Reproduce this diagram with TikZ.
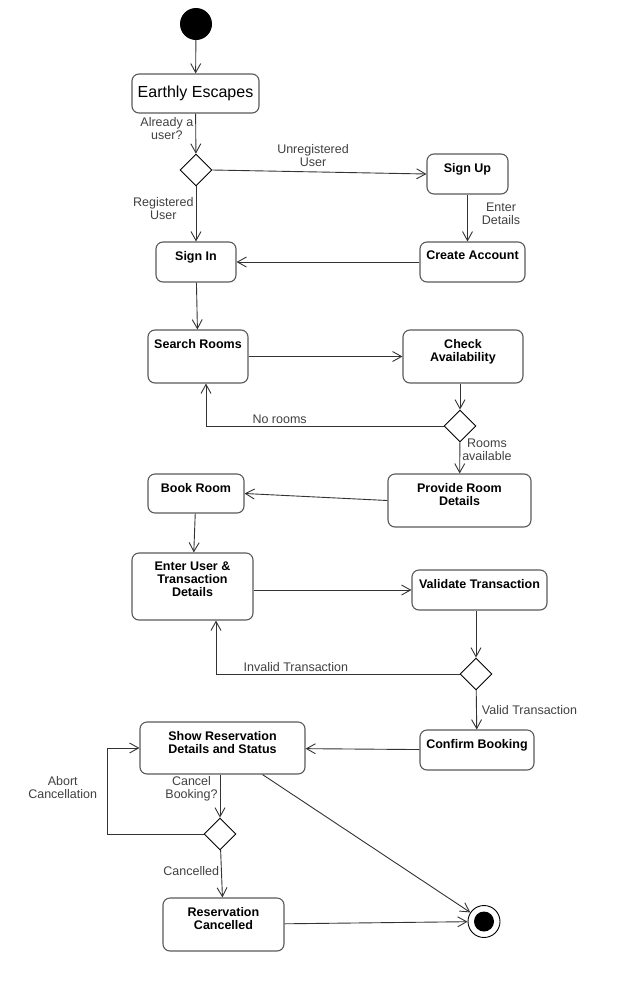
\documentclass[tikz,border=0pt]{standalone}
\usepackage{fontspec}
\setmainfont{Liberation Sans}
\usepackage{tikz}
\usetikzlibrary{shapes.geometric,arrows.meta,positioning}
\tikzset{initial/.style={circle,fill=black,minimum size=32,inner sep=0}}
\tikzset{final/.style={circle,draw=black,line width=0.9pt,minimum size=32,inner sep=0,path picture={\fill[black] (path picture bounding box.center) circle (10pt);}}}
\tikzset{decision/.style={diamond,draw=black,line width=0.9pt,aspect=1,minimum size=32,inner sep=0}}
\tikzset{act/.style={draw=black!65,line width=1.1pt,rounded corners=7pt,inner sep=0}}
\tikzset{acttext/.style={anchor=north,yshift=-7.5pt,align=center,inner sep=2pt,font=\bfseries\fontsize{12.5}{13}\selectfont}}
\tikzset{guard/.style={align=center,inner sep=2pt,text=black!75,font=\fontsize{12.5}{13}\selectfont}}
\tikzset{flow/.style={-{Straight Barb[length=9pt,width=10pt]},draw=black!80,line width=0.9pt}}

\begin{document}
\begin{tikzpicture}[x=1pt,y=-1pt]
\useasboundingbox (0,0) rectangle (620,991);
%start and login
\node (st) at (196,24)[initial]{};
\node (ee) at (195.5,93.5)[act,minimum width=127,minimum height=39,font=\fontsize{16}{18}\selectfont]{Earthly Escapes};
\node (d1) at (196,170)[decision]{};
\node (su) at (467.5,174)[act,minimum width=81,minimum height=40,label={[acttext]north:Sign Up}]{};
\node (ca) at (472.5,262)[act,minimum width=105,minimum height=40,label={[acttext]north:Create Account}]{};
\node (si) at (196,262)[act,minimum width=80,minimum height=40,label={[acttext]north:Sign In}]{};
%rooms
\node (sr) at (198,356.5)[act,minimum width=100,minimum height=53,label={[acttext]north:Search Rooms}]{};
\node (chk) at (463,356.5)[act,minimum width=120,minimum height=53,label={[acttext]north:{Check\\Availability}}]{};
\node (d2) at (460,426)[decision]{};
\node (pr) at (459.5,500.5)[act,minimum width=143,minimum height=53,label={[acttext]north:{Provide Room\\Details}}]{};
\node (br) at (196,493.5)[act,minimum width=96,minimum height=39,label={[acttext]north:Book Room}]{};
%payment
\node (eu) at (192.5,586.5)[act,minimum width=121,minimum height=67,label={[acttext]north:{Enter User \&\\Transaction\\Details}}]{};
\node (vt) at (479.5,590)[act,minimum width=135,minimum height=40,label={[acttext]north:Validate Transaction}]{};
\node (d3) at (476,674)[decision]{};
\node (cb) at (477,750)[act,minimum width=114,minimum height=40,label={[acttext]north:Confirm Booking}]{};
%reservation
\node (sh) at (222.5,748)[act,minimum width=165,minimum height=52,label={[acttext]north:{Show Reservation\\Details and Status}}]{};
\node (d4) at (220,834)[decision]{};
\node (rc) at (223.5,924.5)[act,minimum width=121,minimum height=53,label={[acttext]north:{Reservation\\Cancelled}}]{};
\node (en) at (484,921.5)[final]{};

\draw[flow] (st)--(ee);
\draw[flow] (ee)--(d1) node[guard,pos=0.37,left]{Already a\\user?};
\draw[flow] (d1.east)--(su.west) node[guard,pos=0.47,above=3pt]{Unregistered\\User};
\draw[flow] (d1)--(si) node[guard,pos=0.4,left]{Registered\\User};
\draw[flow] (su.south)--(su.south|-ca.north) node[guard,pos=0.4,right=12pt]{Enter\\Details};
\draw[flow] (ca)--(si);
\draw[flow] (si)--(sr);
\draw[flow] (sr)--(chk);
\draw[flow] (d2|-chk.south)--(d2);
\draw[flow] (d2.west) -| ([xshift=8]sr.south) node[guard,pos=0.345,above]{No rooms};
\draw[flow] (d2)--(pr) node[guard,pos=0.25,right]{Rooms\\available};
\draw[flow] (pr.west)--(br.east);
\draw[flow] (br)--(eu);
\draw[flow] (eu.east|-vt)--(vt);
\draw[flow] (d3|-vt.south)--(d3);
\draw[flow] (d3.west) -| ([xshift=23.5]eu.south) node[guard,pos=0.336,above]{Invalid Transaction};
\draw[flow] (d3)--(cb) node[guard,pos=0.5,right=3pt]{Valid Transaction};
\draw[flow] (cb)--(sh);
\draw[flow] (d4|-sh.south)--(d4) node[guard,pos=0.32,left]{Cancel\\Booking?};
\draw[flow] (d4.west) -- ++(-96,0) |- (sh.west) node[guard,pos=0.27,left=8pt]{Abort\\Cancellation};
\draw[flow] (d4)--(rc) node[guard,pos=0.44,left]{Cancelled};
\draw[flow] (rc)--(en);
\draw[flow] ([xshift=40]sh.south)--(en);
\end{tikzpicture}
\end{document}
